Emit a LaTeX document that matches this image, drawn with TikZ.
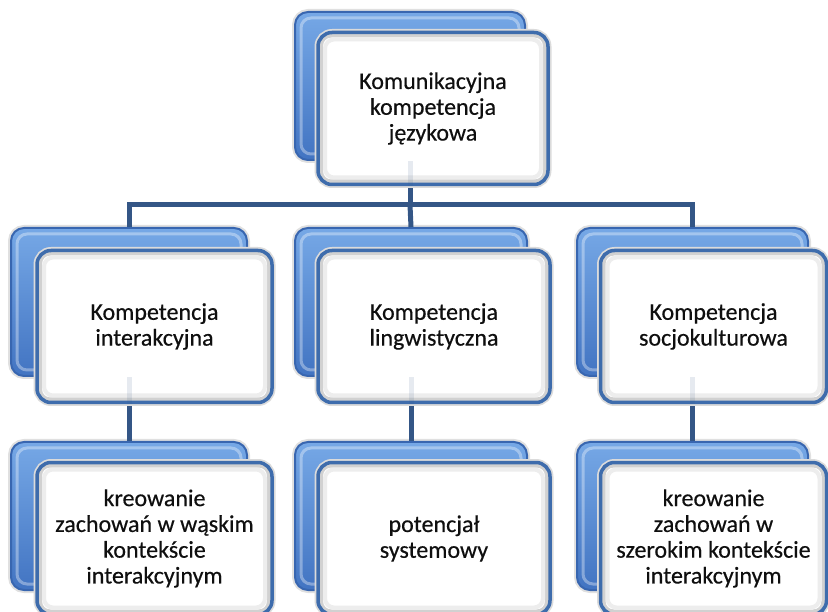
\documentclass[tikz,border=0pt]{standalone}
\usepackage{fontspec}
\setmainfont{Carlito}[FakeBold=0.4]
\begin{document}
\definecolor{linkblue}{RGB}{52,86,134}
\definecolor{backtop}{RGB}{118,168,230}
\definecolor{backmid}{RGB}{84,138,214}
\definecolor{backbot}{RGB}{66,116,194}
\definecolor{backedge}{RGB}{56,102,176}
\definecolor{frontedge}{RGB}{62,108,172}
\definecolor{textdark}{RGB}{15,15,15}
\begin{tikzpicture}[x=1pt,y=-1pt,
  link/.style={draw=linkblue, line width=5pt},
  ghost/.style={draw=linkblue, line width=5pt, draw opacity=0.12},
  backbox/.style={rectangle, rounded corners=13pt, inner sep=0pt,
    minimum width=#1, minimum height=148pt,
    preaction={draw=black!12, line width=6pt},
    draw=backedge, line width=2pt,
    top color=backtop, middle color=backmid, bottom color=backbot,
    path picture={\draw[white, opacity=0.35, line width=3pt, rounded corners=10pt]
      ([shift={(6,6)}]path picture bounding box.north west) rectangle
      ([shift={(-6,-6)}]path picture bounding box.south east);}},
  backbox/.default=232pt,
  frontbox/.style={rectangle, rounded corners=14pt, inner sep=0pt,
    minimum width=#1, minimum height=152pt,
    preaction={draw=black!14, line width=7pt},
    draw=frontedge, line width=3.5pt, fill=white,
    align=center, text=textdark,
    font=\fontsize{24pt}{25.8pt}\selectfont,
    path picture={
      \draw[black!18, line width=6pt, rounded corners=11pt]
        ([shift={(2,2)}]path picture bounding box.north west) rectangle
        ([shift={(-2,-2)}]path picture bounding box.south east);
      \draw[black!7, line width=4pt, rounded corners=9pt]
        ([shift={(7,7)}]path picture bounding box.north west) rectangle
        ([shift={(-7,-7)}]path picture bounding box.south east);}},
  frontbox/.default=232pt]
\useasboundingbox (0,0) rectangle (828,612);

% level in between the root and the three branches
\coordinate (bus) at (0,205);

% back (blue) panels
\node[backbox=230pt] (rootb) at (410,86) {};
\node[backbox=236pt] (lb)  at (129,302) {};
\node[backbox=232pt] (mb)  at (411,302) {};
\node[backbox=231pt] (rb)  at (692.5,302) {};
\node[backbox=236pt] (llb) at (129,516) {};
\node[backbox=232pt] (mlb) at (411,516) {};
\node[backbox=231pt] (rlb) at (692.5,516) {};

% connectors, drawn beneath the front panels
\draw[link] (rootb.south) -- (rootb.south |- bus);
\draw[link] (lb.north) -- (lb.north |- bus) -| (rb.north);
\draw[link] (rootb.south |- bus) -- (mb.north);
\draw[link] (lb.south) -- (llb.north);
\draw[link] (mb.south) -- (mlb.north);
\draw[link] (rb.south) -- (rlb.north);

% front (white) panels with the labels
\node[frontbox=230pt] (rootf) at (433,108.5) {Komunikacyjna\\kompetencja\\językowa};
\node[frontbox=235pt] (lf) at (154.5,326.5) {Kompetencja\\interakcyjna};
\node[frontbox=232pt] (mf) at (434,326.5) {Kompetencja\\lingwistyczna};
\node[frontbox=226pt] (rf) at (713.5,326.5) {Kompetencja\\socjokulturowa};
\node[frontbox=235pt] (llf) at (154.5,538.5) {kreowanie\\zachowań w wąskim\\kontekście\\interakcyjnym};
\node[frontbox=232pt] (mlf) at (434,538.5) {potencjał\\systemowy};
\node[frontbox=226pt] (rlf) at (713.5,538.5) {kreowanie\\zachowań w\\szerokim kontekście\\interakcyjnym};

% faint trace of the connectors seen through the front panels
\draw[ghost] (rootb.south) -- (rootb.south |- rootf.south);
\draw[ghost] (lb.south) -- (lb.south |- lf.south);
\draw[ghost] (mb.south) -- (mb.south |- mf.south);
\draw[ghost] (rb.south) -- (rb.south |- rf.south);
\end{tikzpicture}
\end{document}
